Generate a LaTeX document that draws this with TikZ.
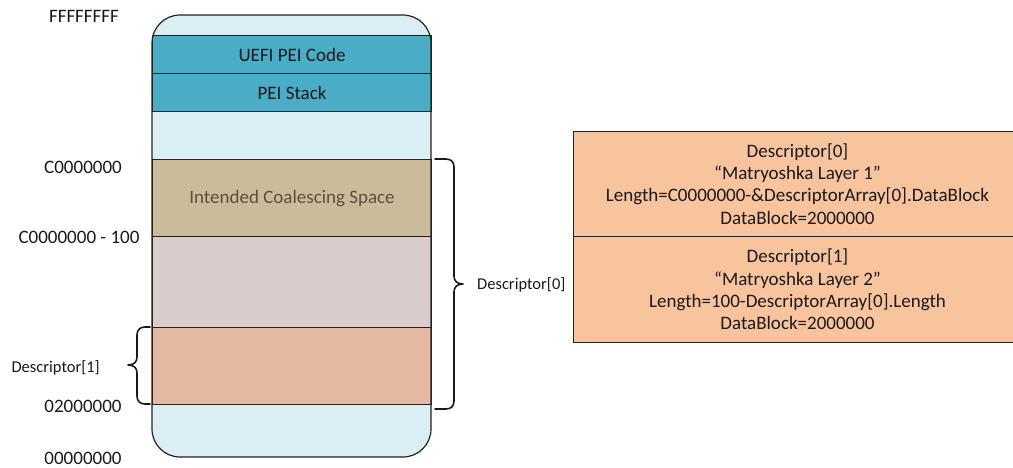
\documentclass[tikz,border=0pt]{standalone}
\usepackage{fontspec}
\setmainfont{Carlito}
\definecolor{memblue}{HTML}{DBEEF4}
\definecolor{peiteal}{HTML}{4BACC6}
\definecolor{coaltan}{HTML}{CBBB99}
\definecolor{mauve}{HTML}{DACCCC}
\definecolor{salmon}{HTML}{E5B8A2}
\definecolor{peach}{HTML}{F8C49E}
\definecolor{outline}{HTML}{222222}
\definecolor{coaltext}{HTML}{5E4E42}
\tikzset{
  band/.style={draw=outline, line width=1.1pt, minimum width=279pt, inner sep=0pt,
    anchor=north west, font=\fontsize{19}{22}\selectfont, text=black!90},
  addr/.style={font=\fontsize{19}{22}\selectfont, text=black!90, inner sep=0pt},
  desclabel/.style={font=\fontsize{16.5}{19}\selectfont, text=black!90, inner sep=0pt},
  descbox/.style={draw=outline, line width=1pt, fill=peach, minimum width=448pt,
    inner sep=0pt, anchor=north west, align=center,
    font=\fontsize{19}{22.3}\selectfont, text=black!90},
  bracket/.style={draw=black!90, line width=1.6pt, line cap=round, line join=round}
}
\begin{document}
\begin{tikzpicture}[x=1pt,y=-1pt]
\useasboundingbox (0,0) rectangle (1013,467);

% memory column background
\fill[memblue, rounded corners=28pt] (152,15) rectangle (431,457);

% memory regions
\node[band, fill=peiteal, minimum height=38pt] (code) at (152,35) {UEFI PEI Code};
\node[band, fill=peiteal, minimum height=38pt] (stack) at (152,73) {PEI Stack};
\node[band, fill=coaltan, minimum height=77pt, text=coaltext] (coal) at (152,159) {Intended Coalescing Space};
\node[band, fill=mauve, minimum height=91pt] (gap) at (152,236) {};
\node[band, fill=salmon, minimum height=77pt] (data) at (152,327) {};

% column outline
\draw[outline, line width=1.2pt, rounded corners=28pt] (152,15) rectangle (431,457);

% addresses
\node[addr] (aTop) at (84,16) {FFFFFFFF};
\node[addr] (aC) at (83,167) {C0000000};
\node[addr] (aC100) at (79,237) {C0000000 - 100};
\node[addr] (a2) at (83,406) {02000000};
\node[addr] (aZero) at (83,458) {00000000};

% descriptor 1 bracket
\coordinate (d1top) at (150,327);
\coordinate (d1bot) at (150,404);
\coordinate (d1tip) at (128,365);
\draw[bracket] (d1top) -- (145,327) .. controls (140,327) and (137,330) .. (137,335)
  -- (137,357) .. controls (137,362) and (134,365) .. (d1tip)
  .. controls (134,365) and (137,368) .. (137,373)
  -- (137,396) .. controls (137,401) and (140,404) .. (145,404) -- (d1bot);
\node[desclabel, anchor=east] (d1lab) at (100,368) {Descriptor[1]};

% descriptor 0 bracket
\coordinate (d0top) at (435,159);
\coordinate (d0bot) at (435,409);
\coordinate (d0tip) at (463,284);
\draw[bracket] (d0top) -- (446,159) .. controls (451,159) and (454,162) .. (454,167)
  -- (454,276) .. controls (454,281) and (457,284) .. (d0tip)
  .. controls (457,284) and (454,287) .. (454,292)
  -- (454,401) .. controls (454,406) and (451,409) .. (446,409) -- (d0bot);
\node[desclabel, anchor=west] (d0lab) at (477,285) {Descriptor[0]};

% descriptor array
\node[descbox, minimum height=105pt] (desc0) at (573,131)
  {Descriptor[0]\\“Matryoshka Layer 1”\\Length=C0000000-\&DescriptorArray[0].DataBlock\\DataBlock=2000000};
\node[descbox, minimum height=106pt] (desc1) at (573,236)
  {Descriptor[1]\\“Matryoshka Layer 2”\\Length=100-DescriptorArray[0].Length\\DataBlock=2000000};
\end{tikzpicture}
\end{document}
